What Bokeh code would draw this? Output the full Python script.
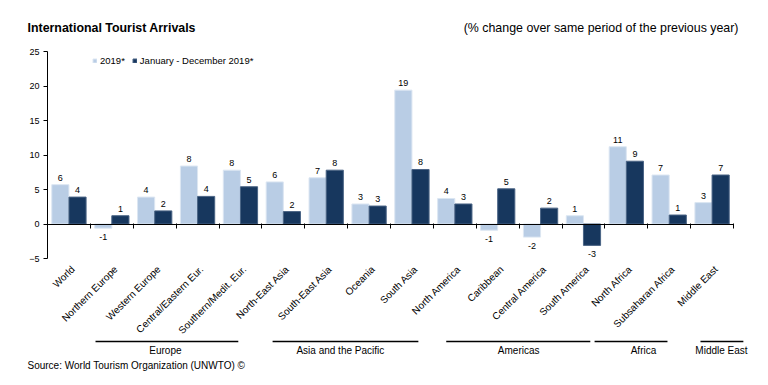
import math
from bokeh.plotting import figure
from bokeh.models import (Range1d, FixedTicker, ColumnDataSource, Legend, LegendItem)
from bokeh.core.properties import value
from bokeh.embed import file_html
from bokeh.resources import INLINE

# ---------------- data ----------------
categories = ["World", "Northern Europe", "Western Europe", "Central/Eastern Eur.",
              "Southern/Medit. Eur.", "North-East Asia", "South-East Asia", "Oceania",
              "South Asia", "North America", "Caribbean", "Central America",
              "South America", "North Africa", "Subsaharan Africa", "Middle East"]
series_a_name = "2019*"
series_b_name = "January - December 2019*"
series_a = [5.7, -0.6, 3.9, 8.4, 7.8, 6.1, 6.7, 2.9, 19.4, 3.7, -0.9, -1.9, 1.2, 11.2, 7.1, 3.1]
series_b = [3.9, 1.2, 1.9, 4.0, 5.4, 1.8, 7.8, 2.6, 7.9, 2.9, 5.1, 2.3, -3.1, 9.1, 1.3, 7.1]
labels_a = ["6", "-1", "4", "8", "8", "6", "7", "3", "19", "4", "-1", "-2", "1", "11", "7", "3"]
labels_b = ["4", "1", "2", "4", "5", "2", "8", "3", "8", "3", "5", "2", "-3", "9", "1", "7"]
y_ticks = [-5, 0, 5, 10, 15, 20, 25]
y_min, y_max = -5, 25
groups = ["Europe", "Asia and the Pacific", "Americas", "Africa", "Middle East"]
group_line_start = [0.62, 4.75, 8.80, 12.26, 14.73]
group_line_end = [3.95, 8.15, 12.16, 13.96, 15.73]
group_text_x = [2.25, 6.33, 10.49, 13.40, 15.22]

title_text = "International Tourist Arrivals"
subtitle_text = "(% change over same period of the previous year)"
source_text = "Source: World Tourism Organization (UNWTO) \u00a9"

LIGHT = "#B9CDE5"
DARK = "#17375E"
FONT = "Liberation Sans"

W, H = 768, 385
n = len(categories)
idx = list(range(n))

# plotting-area geometry (pixels) -> data mapping so the frame can fill the canvas
AX_LEFT, AX_RIGHT, AX_TOP, AX_BOTTOM = 47, 733, 51, 258
kx = (AX_RIGHT - AX_LEFT) / n
ky = (AX_BOTTOM - AX_TOP) / (y_max - y_min)
def sx(px):
    return -0.5 + (px - AX_LEFT) / kx
def sy(py):
    return y_max - (py - AX_TOP) / ky

p = figure(width=W, height=H, output_backend="svg", toolbar_location=None,
           x_range=Range1d(sx(0), sx(W)), y_range=Range1d(sy(H), sy(0)),
           min_border=0, min_border_left=0, min_border_right=0,
           min_border_top=0, min_border_bottom=0, title=None)
p.outline_line_color = None
p.xgrid.grid_line_color = None
p.ygrid.grid_line_color = None
p.background_fill_color = "white"
p.border_fill_color = "white"

src = ColumnDataSource(dict(
    xa=[i - 0.2 for i in idx], xb=[i + 0.2 for i in idx],
    a=series_a, b=series_b, la=labels_a, lb=labels_b,
    base_a=["bottom" if v >= 0 else "top" for v in series_a],
    base_b=["bottom" if v >= 0 else "top" for v in series_b],
    off_a=[-4 if v >= 0 else 6 for v in series_a],
    off_b=[-4 if v >= 0 else 6 for v in series_b],
))

ra = p.vbar(x="xa", top="a", bottom=0, width=0.4, source=src,
            fill_color=LIGHT, line_color="#DCE6F2", line_width=1)
rb = p.vbar(x="xb", top="b", bottom=0, width=0.4, source=src,
            fill_color=DARK, line_color="#4A6485", line_width=1)

p.text(x="xa", y="a", text="la", source=src, text_align="center",
       text_baseline="base_a", y_offset="off_a", text_font=value(FONT),
       text_font_size="9px", text_color="black")
p.text(x="xb", y="b", text="lb", source=src, text_align="center",
       text_baseline="base_b", y_offset="off_b", text_font=value(FONT),
       text_font_size="9px", text_color="black")

# y axis at the left edge of the plotting area
ya = p.yaxis[0]
ya.fixed_location = -0.5
ya.bounds = (y_min, y_max)
ya.ticker = FixedTicker(ticks=y_ticks)
ya.axis_line_color = "black"
ya.major_tick_line_color = "black"
ya.major_tick_out = 4
ya.major_tick_in = 0
ya.minor_tick_line_color = None
ya.major_label_text_font = FONT
ya.major_label_text_font_size = "9px"
ya.major_label_text_color = "black"
ya.major_label_standoff = 4

# x axis along zero with ticks at category boundaries
xa = p.xaxis[0]
xa.fixed_location = 0
xa.bounds = (-0.5, n - 0.5)
xa.ticker = FixedTicker(ticks=[i + 0.5 for i in idx])
xa.axis_line_color = "black"
xa.major_tick_line_color = "black"
xa.major_tick_out = 4
xa.major_tick_in = 1
xa.minor_tick_line_color = None
xa.major_label_text_color = None
xa.major_label_text_font_size = "1px"

# category labels, rotated, under the plotting area
csrc = ColumnDataSource(dict(x=idx, y=[y_min] * n, t=categories))
p.text(x="x", y="y", text="t", source=csrc, angle=math.pi / 4,
       text_align="right", text_baseline="middle", x_offset=4, y_offset=9,
       text_font=value(FONT), text_font_size="10px", text_color="black")

# legend
legend = Legend(items=[LegendItem(label=series_a_name, renderers=[ra]),
                       LegendItem(label=series_b_name, renderers=[rb])],
                orientation="horizontal", location=(92, H - 66),
                border_line_color=None, background_fill_alpha=0,
                padding=0, margin=0, spacing=7, label_standoff=3,
                glyph_width=5, glyph_height=5,
                label_text_font=FONT, label_text_font_size="9.5px",
                label_text_color="black", label_height=10)
p.add_layout(legend, "center")

# titles
p.text(x=[sx(27)], y=[sy(27)], text=[title_text], text_font=value(FONT),
       text_font_size="12.4px", text_font_style="bold", text_baseline="middle",
       text_color="black")
p.text(x=[sx(738)], y=[sy(27)], text=[subtitle_text], text_font=value(FONT),
       text_font_size="12.4px", text_baseline="middle", text_align="right",
       text_color="black")

# group brackets
gsrc = ColumnDataSource(dict(x0=group_line_start, x1=group_line_end,
                             y=[sy(341)] * len(groups), gx=group_text_x,
                             gy=[sy(350)] * len(groups), g=groups))
p.segment(x0="x0", y0="y", x1="x1", y1="y", source=gsrc, line_color="black", line_width=1.5)
p.text(x="gx", y="gy", text="g", source=gsrc, text_font=value(FONT), text_font_size="10px",
       text_align="center", text_baseline="middle", text_color="black")

p.text(x=[sx(27)], y=[sy(365)], text=[source_text], text_font=value(FONT),
       text_font_size="10px", text_baseline="middle", text_color="black")

open("out.html", "w").write(file_html(p, INLINE))
